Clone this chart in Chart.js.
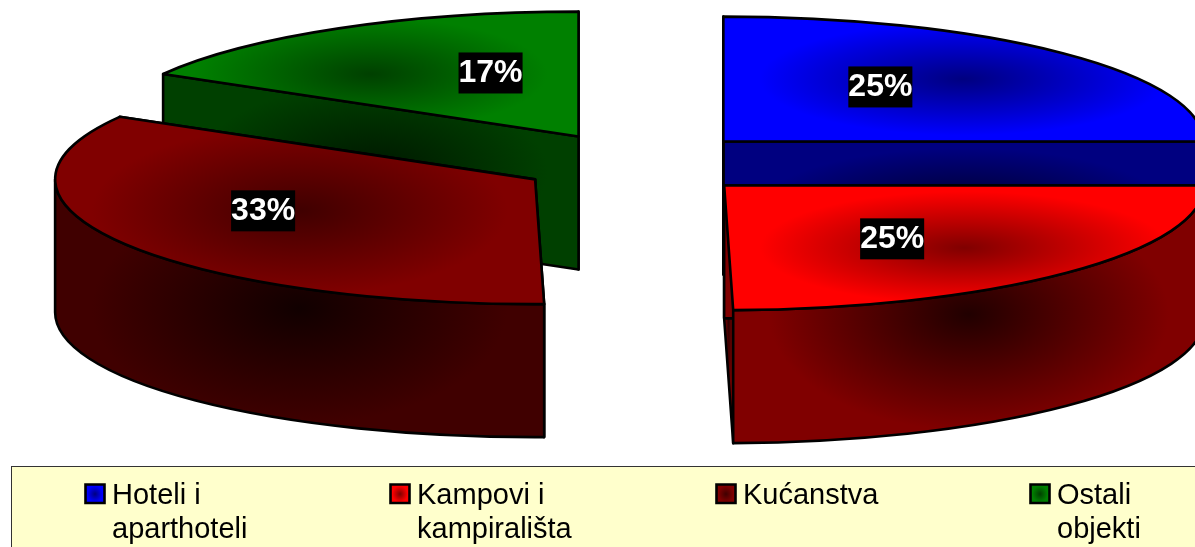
<!DOCTYPE html>
<html>
<head>
<meta charset="utf-8">
<style>
  html, body { margin: 0; padding: 0; background: #fff; overflow: hidden; }
  canvas { display: block; }
</style>
<script src="https://cdn.jsdelivr.net/npm/chart.js@4"></script>
</head>
<body>
<canvas id="myChart" width="1195" height="547"></canvas>
<script>
const categories = [["Hoteli i", "aparthoteli"], ["Kampovi i", "kampirališta"], ["Kućanstva"], ["Ostali", "objekti"]];
const shares = [25, 24.7, 33.65, 16.65];
const shareLabels = ["25%", "25%", "33%", "17%"];
const sliceColors = ["#0000ff", "#ff0000", "#800000", "#008000"];

// look of the tilted pie
const tilt = 0.26;
const depth = 133;
const font = '"Liberation Sans", Arial, sans-serif';

// label boxes, measured from each slice's tip
const labelShift = [[157, -55], [168, 53], [-272, 31], [-88, -64]];
const legendX = [86, 391, 717, 1031];

const shade = (hex, f) => {
  const n = parseInt(hex.slice(1), 16);
  return `rgb(${Math.round((n >> 16) * f)},${Math.round(((n >> 8) & 255) * f)},${Math.round((n & 255) * f)})`;
};

// fill the current path with a dark-centred ellipse gradient over box
const fillShaded = (ctx, box, color, edge, centre) => {
  const cx = (box[0] + box[2]) / 2;
  const cy = (box[1] + box[3]) / 2;
  ctx.save();
  ctx.translate(cx, cy);
  ctx.scale(Math.max(1, (box[2] - box[0]) / 2 * 0.85), Math.max(1, (box[3] - box[1]) / 2 * 0.9));
  const g = ctx.createRadialGradient(0, 0, 0, 0, 0, 1);
  g.addColorStop(0, shade(color, centre));
  g.addColorStop(1, shade(color, edge));
  ctx.fillStyle = g;
  ctx.fill();
  ctx.restore();
  ctx.stroke();
};

const boxOf = (pts) => {
  const xs = pts.map((p) => p[0]);
  const ys = pts.map((p) => p[1]);
  return [Math.min(...xs), Math.min(...ys), Math.max(...xs), Math.max(...ys)];
};

const tiltedPie = {
  id: "tiltedPie",
  beforeDatasetDraw(chart, args) {
    const ctx = chart.ctx;
    const arcs = chart.getDatasetMeta(args.index).data;
    const order = arcs.map((a, i) => i).sort((p, q) => {
      const mid = (i) => (arcs[i].startAngle + arcs[i].endAngle) / 2;
      return Math.sin(mid(p)) * arcs[p].options.offset - Math.sin(mid(q)) * arcs[q].options.offset;
    });
    ctx.save();
    ctx.lineWidth = 2.6;
    ctx.lineJoin = "round";
    ctx.strokeStyle = "#000";
    order.forEach((i) => {
      const arc = arcs[i];
      const color = sliceColors[i];
      const mid = (arc.startAngle + arc.endAngle) / 2;
      const r = arc.outerRadius;
      const tipX = arc.x + Math.cos(mid) * arc.options.offset;
      const tipY = arc.y + Math.sin(mid) * arc.options.offset * tilt;
      const rim = (a, down) => [tipX + r * Math.cos(a), tipY + r * tilt * Math.sin(a) + (down ? depth : 0)];
      const rimPoints = [];
      for (let s = 0; s <= 40; s++) {
        rimPoints.push(rim(arc.startAngle + (arc.endAngle - arc.startAngle) * s / 40));
      }

      // cut faces
      [arc.endAngle, arc.startAngle].forEach((a) => {
        const p = rim(a);
        const q = rim(a, true);
        ctx.beginPath();
        ctx.moveTo(tipX, tipY);
        ctx.lineTo(p[0], p[1]);
        ctx.lineTo(q[0], q[1]);
        ctx.lineTo(tipX, tipY + depth);
        ctx.closePath();
        fillShaded(ctx, boxOf([[tipX, tipY], p, q, [tipX, tipY + depth]]), color, 0.5, 0.17);
      });

      // outer wall, only the part facing the viewer
      const from = Math.max(arc.startAngle, 0);
      const to = Math.min(arc.endAngle, Math.PI);
      if (to > from) {
        const pts = [];
        for (let s = 0; s <= 40; s++) {
          const a = from + (to - from) * s / 40;
          pts.push(rim(a), rim(a, true));
        }
        ctx.beginPath();
        ctx.ellipse(tipX, tipY, r, r * tilt, 0, from, to);
        ctx.ellipse(tipX, tipY + depth, r, r * tilt, 0, to, from, true);
        ctx.closePath();
        fillShaded(ctx, boxOf(pts), color, 0.5, 0.13);
      }

      // top face
      ctx.beginPath();
      ctx.moveTo(tipX, tipY);
      ctx.ellipse(tipX, tipY, r, r * tilt, 0, arc.startAngle, arc.endAngle);
      ctx.closePath();
      fillShaded(ctx, boxOf(rimPoints.concat([[tipX, tipY]])), color, 1, 0.5);
    });

    // percent labels
    ctx.font = "bold 32px " + font;
    ctx.textAlign = "center";
    ctx.textBaseline = "middle";
    arcs.forEach((arc, i) => {
      const mid = (arc.startAngle + arc.endAngle) / 2;
      const x = arc.x + Math.cos(mid) * arc.options.offset + labelShift[i][0];
      const y = arc.y + Math.sin(mid) * arc.options.offset * tilt + labelShift[i][1];
      const w = ctx.measureText(shareLabels[i]).width;
      ctx.fillStyle = "#000";
      ctx.fillRect(x - w / 2, y - 20, w, 41);
      ctx.fillStyle = "#fff";
      ctx.fillText(shareLabels[i], x, y + 1);
    });
    ctx.restore();
    return false;
  },
  afterDraw(chart) {
    const ctx = chart.ctx;
    ctx.save();
    ctx.fillStyle = "#ffffcc";
    ctx.strokeStyle = "#333";
    ctx.lineWidth = 1;
    ctx.fillRect(11.5, 466.5, 1200, 100);
    ctx.strokeRect(11.5, 466.5, 1200, 100);
    ctx.font = "29px " + font;
    ctx.textAlign = "left";
    ctx.textBaseline = "alphabetic";
    ctx.lineWidth = 2.6;
    ctx.strokeStyle = "#000";
    categories.forEach((lines, i) => {
      const x = legendX[i];
      ctx.beginPath();
      ctx.rect(x - 0.5, 484.5, 19, 18.5);
      fillShaded(ctx, [x, 485, x + 18, 503], sliceColors[i], 1, 0.5);
      ctx.fillStyle = "#000";
      lines.forEach((line, n) => ctx.fillText(line, x + 26, 504 + n * 34));
    });
    ctx.restore();
  },
};

const ctx = document.getElementById("myChart").getContext("2d");
const myChart = new Chart(ctx, {
  type: "pie",
  data: {
    labels: categories,
    datasets: [
      {
        data: shares,
        backgroundColor: sliceColors,
        borderColor: "#000",
        borderWidth: 2,
        offset: 120,
        radius: 480,
      },
    ],
  },
  options: {
    responsive: false,
    animation: false,
    events: [],
    layout: { padding: { left: 82, bottom: 220 } },
    plugins: { legend: { display: false }, tooltip: { enabled: false } },
  },
  plugins: [tiltedPie],
});
</script>
</body>
</html>
